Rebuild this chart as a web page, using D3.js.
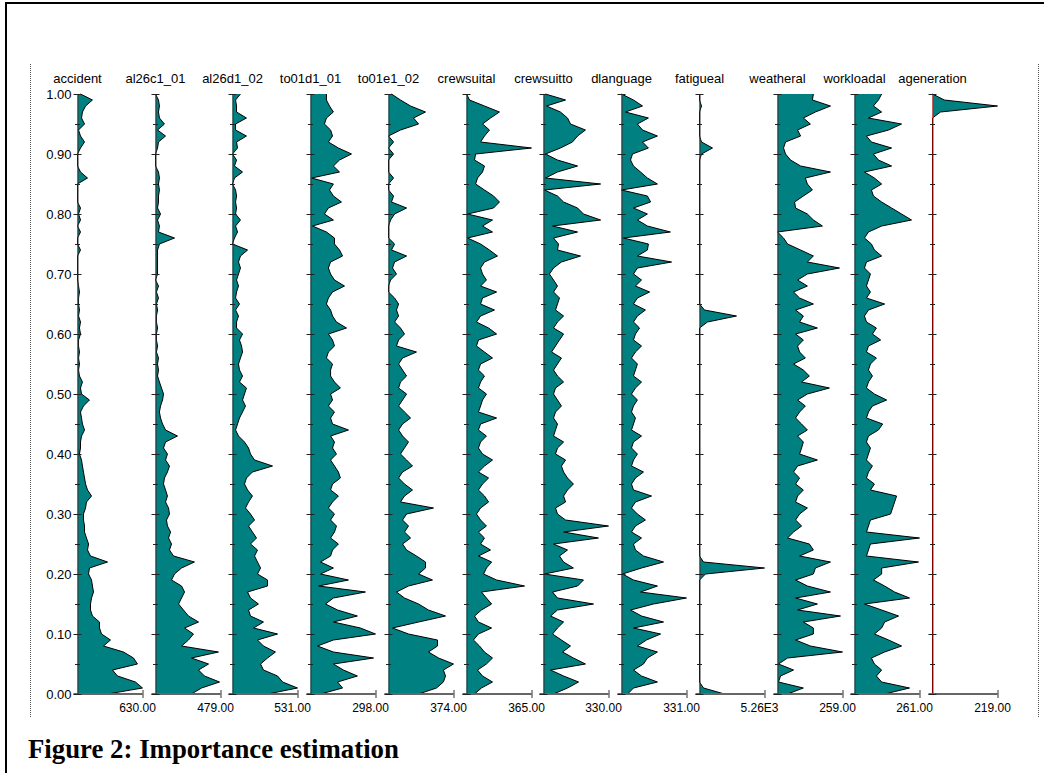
<!DOCTYPE html>
<html>
<head>
<meta charset="utf-8">
<script src="https://cdn.jsdelivr.net/npm/d3@7"></script>
<style>
  body { margin: 0; background: #fff; }
  svg { display: block; font-family: "Liberation Sans", Arial, sans-serif; }
</style>
</head>
<body>
<svg id="chart" width="1044" height="773"></svg>
<script>
// importance profiles, one column per variable
const names = ["accident","al26c1_01","al26d1_02","to01d1_01","to01e1_02","crewsuital",
               "crewsuitto","dlanguage","fatigueal","weatheral","workloadal","ageneration"];
const maxima = [630, 479, 531, 298, 374, 365, 330, 331, 5260, 259, 261, 219];
const maxLabels = ["630.00","479.00","531.00","298.00","374.00","365.00",
                   "330.00","331.00","5.26E3","259.00","261.00","219.00"];
const yTicks = [0, 0.1, 0.2, 0.3, 0.4, 0.5, 0.6, 0.7, 0.8, 0.9, 1.0];
const yMinor = [0.05, 0.15, 0.25, 0.35, 0.45, 0.55, 0.65, 0.75, 0.85, 0.95];

// bin levels, listed from 1.00 down to 0.00
const levels = d3.range(100, -1, -1).map(d => d / 100);

// values per level (1.00 -> 0.00)
const accident = [29,145,78,48,39,68,10,29,68,29,
  0,0,0,29,97,0,0,0,0,29,
  10,29,0,29,0,0,29,0,0,0,
  0,0,10,19,10,10,19,10,29,19,
  29,10,10,19,10,19,10,19,48,29,
  39,116,58,29,39,48,68,39,29,29,
  19,39,48,58,68,78,97,136,87,78,
  58,58,68,68,87,107,97,126,291,116,
  107,136,145,155,136,126,126,145,213,213,
  233,320,252,446,543,581,339,388,562,630,
  291];
const al26c1_01 = [0,22,29,22,29,66,15,74,22,15,
  0,0,0,22,29,22,29,22,22,15,
  37,15,29,22,140,29,15,15,15,15,
  15,0,22,7,22,7,15,7,7,15,
  7,7,15,7,22,15,22,15,29,44,
  59,52,37,29,37,52,74,162,74,59,
  88,74,103,88,66,59,74,88,74,96,
  103,81,88,111,96,118,103,133,287,192,
  140,118,192,214,192,170,206,243,317,214,
  280,243,192,464,265,391,317,361,472,339,
  265];
const al26d1_02 = [65,25,33,33,114,25,25,114,33,41,
  0,33,16,82,16,0,25,33,25,33,
  25,65,25,41,16,0,123,65,49,65,
  49,33,49,33,25,57,25,49,33,33,
  82,57,74,82,65,49,57,82,57,114,
  98,82,106,82,57,41,25,49,98,131,
  147,180,327,163,114,98,123,163,131,106,
  147,180,131,163,196,147,204,180,204,229,
  204,286,286,123,147,212,131,147,253,172,
  368,204,253,351,286,229,253,368,409,531,
  286];
const to01d1_01 = [73,73,87,105,73,64,92,101,82,128,
  188,133,105,133,5,105,87,105,142,82,
  64,105,9,73,110,110,133,147,92,82,
  92,110,156,101,82,73,92,101,119,165,
  82,101,110,82,73,101,92,92,110,137,
  92,101,82,110,92,101,174,92,110,101,
  119,92,110,128,137,101,92,128,101,82,
  110,92,119,110,92,128,101,92,46,105,
  46,174,37,252,105,69,124,215,105,229,
  298,105,32,105,289,105,151,215,124,147,
  46];
const to01e1_02 = [17,69,127,213,144,173,69,0,29,0,
  29,0,0,0,29,0,0,29,17,104,
  35,12,0,0,0,35,17,104,35,23,
  46,12,0,0,35,58,46,58,35,69,
  92,58,46,161,81,58,81,104,69,58,
  104,81,58,92,127,81,58,81,115,92,
  69,104,138,81,58,92,138,92,69,259,
  104,81,115,92,127,81,104,161,213,213,
  173,253,115,46,92,173,230,328,173,23,
  115,282,282,230,288,374,316,328,316,276,
  173];
const crewsuital = [0,17,101,185,135,90,129,101,79,365,
  51,45,101,90,62,51,101,152,185,152,
  6,146,90,146,6,79,129,174,101,79,
  90,112,79,169,90,79,157,79,56,124,
  169,67,56,101,146,79,67,101,79,67,
  112,90,79,67,169,79,67,112,79,67,
  90,146,101,67,124,90,67,101,124,79,
  56,79,112,67,101,79,135,67,141,112,
  96,169,326,84,112,141,84,45,67,141,
  67,39,73,101,146,112,62,90,146,84,
  45];
const crewsuitto = [10,112,15,86,122,137,213,173,147,86,
  10,71,173,71,10,290,5,71,102,173,
  203,290,46,173,51,76,71,188,91,51,
  30,51,71,51,81,71,61,102,71,51,
  102,81,61,41,91,71,51,71,102,61,
  51,71,91,61,51,71,61,51,102,71,
  61,112,91,102,122,152,122,102,112,61,
  71,112,330,102,279,51,122,81,102,152,
  5,203,173,46,71,254,71,36,102,71,
  46,91,137,97,152,213,36,102,178,122,
  51];
const dlanguage = [0,61,107,20,137,81,107,183,107,137,
  56,46,61,97,132,183,0,132,148,61,
  132,81,132,249,10,137,132,81,255,81,
  61,102,71,143,81,61,122,81,61,92,
  71,61,102,71,51,81,71,61,102,71,
  51,81,61,51,71,61,51,102,61,51,
  81,61,51,112,71,51,61,153,71,51,
  81,122,71,51,102,61,71,112,214,102,
  5,61,183,97,331,163,46,102,214,61,
  199,127,81,183,132,112,61,102,183,61,
  31];
const fatigueal = [0,0,162,0,0,0,0,0,162,1052,
  162,0,0,0,0,0,0,0,0,0,
  0,0,0,0,0,0,0,0,0,0,
  0,0,0,0,0,0,405,2993,647,0,
  0,0,0,0,0,0,0,0,0,0,
  0,0,0,0,0,0,0,0,0,0,
  0,0,0,0,0,0,0,0,0,0,
  0,0,0,0,0,0,0,0,324,5260,
  485,0,0,0,0,0,0,0,0,0,
  0,0,0,0,0,0,0,0,0,324,
  2023];
const weatheral = [143,139,211,151,103,131,80,92,32,24,
  32,52,92,211,111,119,139,103,68,72,
  119,143,179,0,24,40,92,143,119,247,
  119,80,119,64,88,143,72,103,88,159,
  72,103,80,88,111,64,103,127,96,207,
  119,80,111,88,72,96,119,80,103,96,
  88,159,80,64,88,72,103,80,72,119,
  88,72,96,64,40,127,143,88,211,151,
  143,72,119,211,72,159,80,251,103,143,
  143,72,131,259,40,4,64,12,4,103,
  40];
const workloadal = [109,96,76,109,56,189,137,48,68,149,
  76,96,149,40,80,109,68,76,109,149,
  189,229,109,56,40,68,80,109,48,40,
  64,56,48,64,48,121,56,40,48,88,
  72,105,56,48,88,64,56,72,56,48,
  80,129,72,56,48,113,96,56,48,64,
  56,48,72,56,48,80,64,169,161,153,
  145,64,56,48,261,64,56,48,257,109,
  109,76,121,161,221,40,109,177,121,109,
  80,137,189,121,68,80,109,88,109,221,
  121];
const ageneration = [0,40,219,27,0,0,0,0,0,0,
  0,0,0,0,0,0,0,0,0,0,
  0,0,0,0,0,0,0,0,0,0,
  0,0,0,0,0,0,0,0,0,0,
  0,0,0,0,0,0,0,0,0,0,
  0,0,0,0,0,0,0,0,0,0,
  0,0,0,0,0,0,0,0,0,0,
  0,0,0,0,0,0,0,0,0,0,
  0,0,0,0,0,0,0,0,0,0,
  0,0,0,0,0,0,0,0,0,0,
  0];

const series = [accident, al26c1_01, al26d1_02, to01d1_01, to01e1_02, crewsuital,
                crewsuitto, dlanguage, fatigueal, weatheral, workloadal, ageneration];

const svg = d3.select("#chart");
const fill = "#008080";
const panelW = 65;

// frame + dotted guides
svg.append("line").attr("x1", 5).attr("x2", 1044).attr("y1", 3).attr("y2", 3)
  .attr("stroke", "#000").attr("stroke-width", 2);
svg.append("line").attr("x1", 6).attr("x2", 6).attr("y1", 2).attr("y2", 773)
  .attr("stroke", "#000").attr("stroke-width", 2);
[30.5, 1038.5].forEach(x => {
  svg.append("line").attr("x1", x).attr("x2", x).attr("y1", 64).attr("y2", 717)
    .attr("stroke", "#555").attr("stroke-dasharray", "1,1");
});

// scales
const y = d3.scaleLinear().domain([0, 1]).range([694, 94]);
const px = d3.scalePoint().domain(names).range([77, 932]);

names.forEach((name, i) => {
  const ax = Math.round(px(name)) + 0.5;
  const g = svg.append("g").attr("transform", `translate(${ax},0)`);
  const xs = d3.scaleLinear().domain([0, maxima[i]]).range([0, panelW]);
  const pts = levels.map((lv, k) => ({lv, v: series[i][k]}));

  // profile
  g.append("path").datum(pts)
    .attr("d", d3.area().y(d => y(d.lv)).x0(0).x1(d => xs(d.v)))
    .attr("fill", fill);
  g.append("path").datum(pts)
    .attr("d", d3.line().y(d => y(d.lv)).x(d => xs(d.v)))
    .attr("fill", "none").attr("stroke", "#000").attr("stroke-width", 1);

  // bottom axis with max label
  const bx = g.append("g").attr("transform", `translate(0,${y(0)})`)
    .call(d3.axisBottom(xs).tickValues([maxima[i]]).tickSizeInner(4).tickSizeOuter(0)
      .tickPadding(5).tickFormat(() => maxLabels[i]));
  bx.select(".domain").attr("stroke", "#666").attr("stroke-width", 2)
    .attr("d", `M-4,0H${panelW}`);
  bx.selectAll(".tick line").attr("y1", -4).attr("stroke", "#333");
  bx.selectAll(".tick text").attr("x", -5.5).attr("font-size", 12)
    .attr("font-family", "Liberation Sans, Arial, sans-serif").attr("fill", "#000");

  // vertical axis
  const left = d3.axisLeft(y).tickValues(yTicks).tickSizeInner(4).tickSizeOuter(0).tickPadding(2)
    .tickFormat(i === 0 ? d3.format(".2f") : () => "");
  const ya = g.append("g").call(left);
  ya.select(".domain").attr("stroke", name === "ageneration" ? "#ff0000" : "#333");
  ya.selectAll(".tick line").attr("x1", 4).attr("stroke", "#222");
  ya.selectAll(".tick text").attr("font-size", 13)
    .attr("font-family", "Liberation Sans, Arial, sans-serif").attr("fill", "#000");
  const minor = g.append("g").call(d3.axisLeft(y).tickValues(yMinor).tickSize(2.5).tickFormat(() => ""));
  minor.select(".domain").remove();
  minor.selectAll(".tick line").attr("x1", 2.5).attr("stroke", "#222");

  // column title
  g.append("text").attr("x", 0).attr("y", 83).attr("text-anchor", "middle")
    .attr("font-size", 13).attr("fill", "#000").text(name);
});

// caption
svg.append("text").attr("x", 28).attr("y", 758)
  .attr("font-family", "Liberation Serif, Times New Roman, serif")
  .attr("font-weight", "bold").attr("font-size", 26.8)
  .text("Figure 2: Importance estimation");
</script>
</body>
</html>
